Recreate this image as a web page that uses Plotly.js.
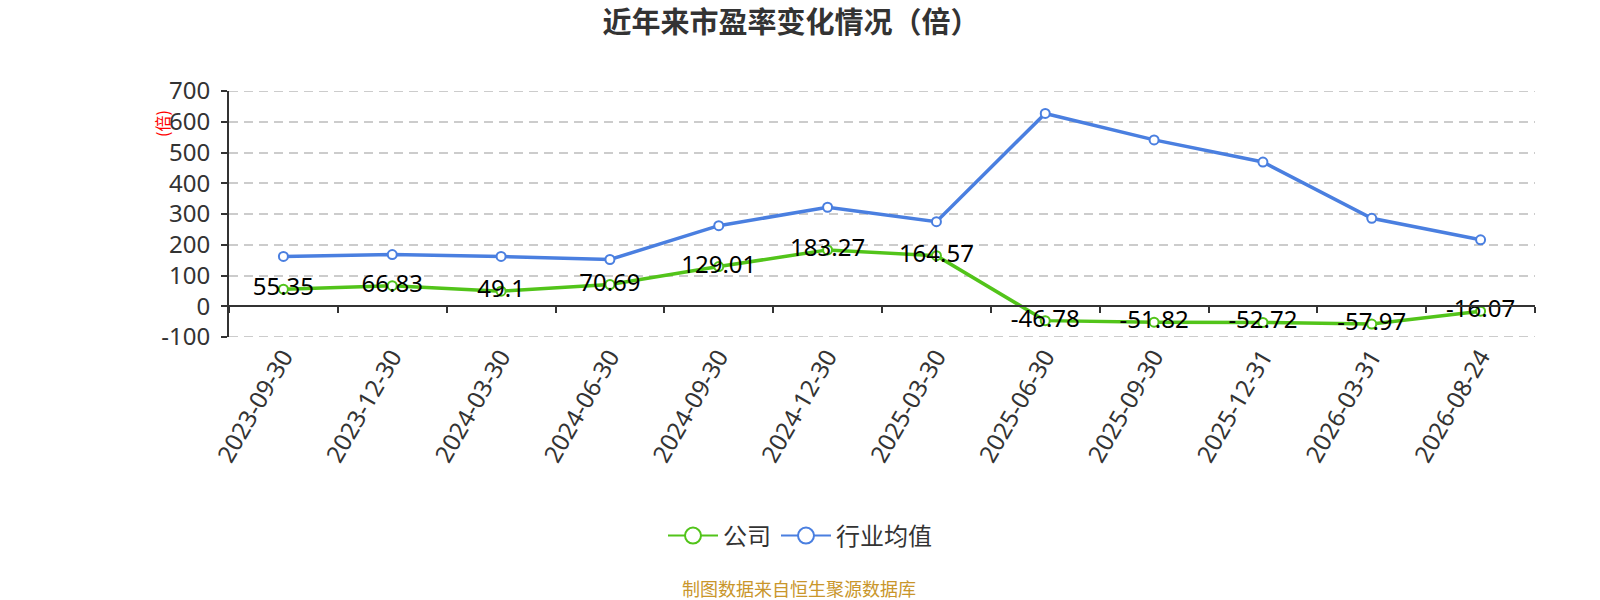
<!DOCTYPE html>
<html>
<head>
<meta charset="utf-8">
<script src="https://cdn.plot.ly/plotly-3.0.1.min.js"></script>
<style>
  html, body { margin: 0; padding: 0; background: #fff; }
  #chart { width: 1600px; height: 600px; }
</style>
</head>
<body>
<div id="chart"></div>
<script>
// 市盈率 chart ---------------------------------------------------------------
const dates = ['2023-09-30', '2023-12-30', '2024-03-30', '2024-06-30', '2024-09-30', '2024-12-30',
               '2025-03-30', '2025-06-30', '2025-09-30', '2025-12-31', '2026-03-31', '2026-08-24'];
const company = [55.35, 66.83, 49.1, 70.69, 129.01, 183.27, 164.57, -46.78, -51.82, -52.72, -57.97, -16.07];
const industry = [162, 168, 162, 152, 262, 322, 275, 627, 541, 469, 286, 216];
const yTicks = [-100, 0, 100, 200, 300, 400, 500, 600, 700];
const seriesNames = ['公司', '行业均值'];

const green = '#52c41a';
const blue = '#4a7fe0';
const gridColor = '#cccccc';
const gridDash = '9px,6px';
const cjk = '"Noto Sans CJK SC", "Noto Sans", sans-serif';
const num = '"Noto Sans", "Open Sans", sans-serif';

// plot area in pixels, used to place the notes
const L = 229, R = 1535, T = 91, B = 337;
const px = x => (x - L) / (R - L);
const py = y => (B - y) / (B - T);

const traces = [
    {
        type: 'scatter', mode: 'lines+markers+text', name: seriesNames[0], showlegend: false,
        x: dates, y: company, xaxis: 'x', yaxis: 'y',
        text: company.map(v => String(v)), textposition: 'middle center',
        textfont: { size: 24, color: '#000', family: num },
        line: { color: green, width: 3.5 },
        marker: { symbol: 'circle', size: 9, color: '#fff', line: { color: green, width: 2 } },
        cliponaxis: false,
    },
    {
        type: 'scatter', mode: 'lines+markers', name: seriesNames[1], showlegend: false,
        x: dates, y: industry, xaxis: 'x2', yaxis: 'y',
        line: { color: blue, width: 3.5 },
        marker: { symbol: 'circle', size: 9, color: '#fff', line: { color: blue, width: 2 } },
        cliponaxis: false,
    },
    // legend entries only (bigger hollow circles like the original)
    ...[green, blue].map((c, i) => ({
        type: 'scatter', mode: 'lines+markers', name: seriesNames[i],
        x: [null], y: [null], xaxis: 'x', yaxis: 'y',
        line: { color: c, width: 2 },
        marker: { symbol: 'circle', size: 18, color: '#fff', line: { color: c, width: 2 } },
    })),
];

// plotly drops grid lines sitting on the range ends, so draw those two by hand
const edgeGrid = [yTicks[0], yTicks[yTicks.length - 1]].map(v => ({
    type: 'line', xref: 'paper', yref: 'y', x0: 0, x1: 1, y0: v, y1: v, layer: 'below',
    line: { color: gridColor, width: 2, dash: gridDash },
}));

const layout = {
    width: 1600, height: 600,
    paper_bgcolor: '#fff', plot_bgcolor: '#fff',
    font: { family: cjk, color: '#333' },
    margin: { l: L, r: 1600 - R, t: T, b: 600 - B, autoexpand: false },
    title: {
        text: '<b>近年来市盈率变化情况（倍）</b>',
        font: { size: 29, color: '#333', family: cjk },
        x: 791 / 1600, xanchor: 'center', y: 1 - 23 / 600, yanchor: 'middle', yref: 'container',
    },
    xaxis: {
        type: 'category', categoryarray: dates, range: [-0.5, 11.5],
        showline: false, ticks: '', showgrid: false, zeroline: false,
        tickangle: -60, tickfont: { size: 24, color: '#333', family: num },
        automargin: false,
    },
    xaxis2: {
        type: 'category', categoryarray: dates, range: [-0.5, 11.5],
        overlaying: 'x', anchor: 'free', position: 100 / 800,
        showline: true, linecolor: '#333', linewidth: 2,
        ticks: 'outside', tickson: 'boundaries', ticklen: 6, tickcolor: '#333', tickwidth: 2,
        showticklabels: false, showgrid: false, zeroline: false,
    },
    yaxis: {
        range: [-100, 700], tickvals: yTicks, ticktext: yTicks.map(String),
        showline: true, linecolor: '#333', linewidth: 2,
        ticks: 'outside', ticklen: 6, tickcolor: '#333', tickwidth: 2, ticklabelstandoff: 6,
        tickfont: { size: 24, color: '#333', family: num },
        showgrid: true, gridcolor: gridColor, gridwidth: 2, griddash: gridDash,
        zeroline: false, automargin: false,
    },
    shapes: edgeGrid,
    showlegend: true,
    legend: {
        orientation: 'h', x: px(800), xanchor: 'center',
        y: py(536), yanchor: 'middle', itemwidth: 50,
        font: { size: 24, color: '#333', family: cjk },
    },
    annotations: [
        {
            text: '(倍)', xref: 'paper', yref: 'paper',
            x: px(162), y: py(124), xanchor: 'center', yanchor: 'middle',
            textangle: -90, showarrow: false, font: { size: 16, color: '#f00', family: cjk },
        },
        {
            text: '制图数据来自恒生聚源数据库', xref: 'paper', yref: 'paper',
            x: px(799), y: py(588), xanchor: 'center', yanchor: 'middle',
            showarrow: false, font: { size: 18, color: '#c9962b', family: cjk },
        },
    ],
};

Plotly.newPlot('chart', traces, layout, { displayModeBar: false, staticPlot: true });
</script>
</body>
</html>
